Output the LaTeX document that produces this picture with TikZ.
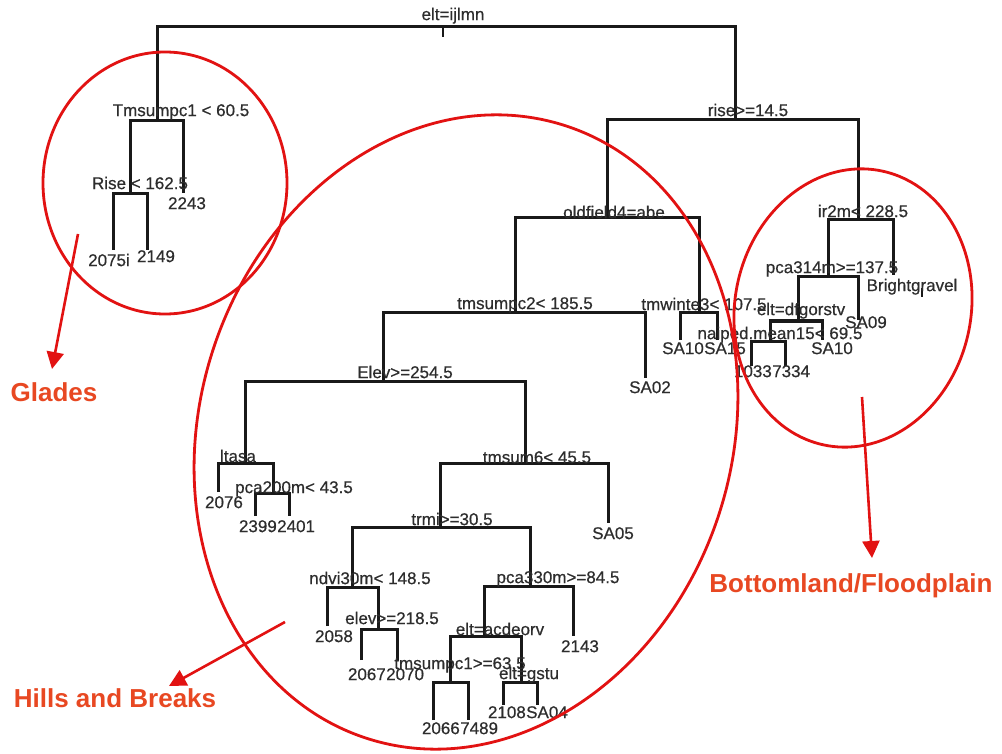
\documentclass[tikz,border=0pt]{standalone}
\usepackage{fontspec}
\setmainfont{Liberation Sans}
\newfontfamily\treefont[FakeBold=0.5]{Liberation Sans}
\usetikzlibrary{arrows.meta}
\definecolor{treeline}{RGB}{25,25,25}
\definecolor{treetext}{RGB}{45,45,45}
\definecolor{ringred}{RGB}{226,18,18}
\definecolor{labelred}{RGB}{232,72,34}
\begin{document}
\begin{tikzpicture}[x=1pt,y=-1pt,
  branch/.style={draw=treeline,line width=3pt},
  tick/.style={draw=treeline,line width=1.5pt},
  split/.style={font=\treefont\fontsize{17}{18}\selectfont,text=treetext,inner sep=0pt,text height=12.2pt,text depth=0pt},
  ring/.style={draw=ringred,line width=2.8pt},
  pointer/.style={draw=ringred,line width=2.6pt,-{Triangle[length=17pt,width=17pt]}},
  region/.style={font=\bfseries\fontsize{26}{28}\selectfont,text=labelred,inner sep=0pt,text height=18.6pt,text depth=0pt}]
\useasboundingbox[fill=white] (0,0) rectangle (1002,754);

% ---------- tree coordinates ----------
\coordinate (root) at (443,27);
\coordinate (rootstub) at (443,37);
\coordinate (n2) at (157,121);
\coordinate (n4) at (130,194);
\coordinate (l2075) at (113,250);
\coordinate (l2149) at (147,250);
\coordinate (l2243) at (183,193);
\coordinate (n3) at (735,120);
\coordinate (n6) at (607,218);
\coordinate (n7) at (858,220);
\coordinate (n12) at (515,313);
\coordinate (n13) at (699,313);
\coordinate (lSA10a) at (680,340);
\coordinate (lSA15) at (717,340);
\coordinate (n24) at (383,381);
\coordinate (lSA02) at (645,378);
\coordinate (n48) at (245,463);
\coordinate (l2076) at (218,492);
\coordinate (n97) at (273,493);
\coordinate (l2399) at (255,516);
\coordinate (l2401) at (289,516);
\coordinate (n49) at (525,463);
\coordinate (n98) at (440,527);
\coordinate (lSA05) at (608,523);
\coordinate (n196) at (352,587);
\coordinate (l2058) at (327,626);
\coordinate (n393) at (378,629);
\coordinate (l2067) at (361,660);
\coordinate (l2070) at (397,660);
\coordinate (n197) at (530,586);
\coordinate (n394) at (484,636);
\coordinate (l2143) at (573,636);
\coordinate (n788) at (450,682);
\coordinate (l2066) at (433,720);
\coordinate (l7489) at (468,720);
\coordinate (n789) at (521,682);
\coordinate (l2108) at (503,705);
\coordinate (lSA04) at (537,705);
\coordinate (n14) at (828,277);
\coordinate (lBright) at (893,275);
\coordinate (n28) at (798,321);
\coordinate (lSA09) at (858,320);
\coordinate (n56) at (770,341);
\coordinate (l1033) at (751,366);
\coordinate (l7334) at (785,366);
\coordinate (lSA10b) at (822,340);
\coordinate (brighttickA) at (922,288);
\coordinate (brighttickB) at (922,297);

% ---------- tree branches ----------
\draw[tick] (root) -- (rootstub);
\draw[branch] (n2) |- (root) -| (n3);
\draw[branch] (n4) |- (n2) -| (l2243);
\draw[branch] (l2075) |- (n4) -| (l2149);
\draw[branch] (n6) |- (n3) -| (n7);
\draw[branch] (n12) |- (n6) -| (n13);
\draw[branch] (lSA10a) |- (n13) -| (lSA15);
\draw[branch] (n24) |- (n12) -| (lSA02);
\draw[branch] (n48) |- (n24) -| (n49);
\draw[branch] (l2076) |- (n48) -| (n97);
\draw[branch] (l2399) |- (n97) -| (l2401);
\draw[branch] (n98) |- (n49) -| (lSA05);
\draw[branch] (n196) |- (n98) -| (n197);
\draw[branch] (l2058) |- (n196) -| (n393);
\draw[branch] (l2067) |- (n393) -| (l2070);
\draw[branch] (n394) |- (n197) -| (l2143);
\draw[branch] (n788) |- (n394) -| (n789);
\draw[branch] (l2066) |- (n788) -| (l7489);
\draw[branch] (l2108) |- (n789) -| (lSA04);
\draw[branch] (n14) |- (n7) -| (lBright);
\draw[branch] (n28) |- (n14) -| (lSA09);
\draw[branch] (n56) |- (n28) -| (lSA10b);
\draw[branch] (l1033) |- (n56) -| (l7334);
\draw[tick] (brighttickA) -- (brighttickB);

% ---------- split labels ----------
\node[split] (t1) at (453,14) {elt=ijlmn};
\node[split] (t2) at (181,110) {Tmsumpc1 < 60.5};
\node[split] (t4) at (140,183) {Rise < 162.5};
\node[split] (t3) at (748,110) {rise>=14.5};
\node[split] (t6) at (614,212) {oldfield4=abe};
\node[split] (t7) at (863,211) {ir2m< 228.5};
\node[split] (t14) at (832,267) {pca314m>=137.5};
\node[split] (t28) at (801,309) {elt=dfgorstv};
\node[split] (t56) at (780,333) {naiped.mean15< 69.5};
\node[split] (t13) at (704,304) {tmwinte3< 107.5};
\node[split] (t12) at (525,303) {tmsumpc2< 185.5};
\node[split] (t24) at (405,372) {Elev>=254.5};
\node[split] (t48) at (238,456) {ltasa};
\node[split] (t97) at (294,487) {pca200m< 43.5};
\node[split] (t49) at (537,457) {tmsum6< 45.5};
\node[split] (t98) at (452,519) {trmi>=30.5};
\node[split] (t196) at (370,578) {ndvi30m< 148.5};
\node[split] (t393) at (392,618) {elev>=218.5};
\node[split] (t197) at (558,577) {pca330m>=84.5};
\node[split] (t394) at (500,629) {elt=acdeorv};
\node[split] (t788) at (460,663) {tmsumpc1>=63.5};
\node[split] (t789) at (529,673) {elt=gstu};

% ---------- leaf labels ----------
\node[split] (a2075) at (109,260) {2075i};
\node[split] (a2149) at (156,256) {2149};
\node[split] (a2243) at (187,203) {2243};
\node[split,anchor=east] (aSA10a) at (704,348) {SA10};
\node[split,anchor=west] (aSA15) at (704,348) {SA15};
\node[split] (aSA02) at (650,387) {SA02};
\node[split] (a2076) at (224,502) {2076};
\node[split,anchor=east] (a2399) at (277,526) {2399};
\node[split,anchor=west] (a2401) at (277,526) {2401};
\node[split] (aSA05) at (613,533) {SA05};
\node[split] (a2058) at (334,636) {2058};
\node[split,anchor=east] (a2067) at (386,674) {2067};
\node[split,anchor=west] (a2070) at (386,674) {2070};
\node[split] (a2143) at (580,646) {2143};
\node[split,anchor=east] (a2066) at (460,728) {2066};
\node[split,anchor=west] (a7489) at (460,728) {7489};
\node[split,anchor=east] (a2108) at (526,712) {2108};
\node[split,anchor=west] (aSA04) at (526,712) {SA04};
\node[split] (aBright) at (912,285) {Brightgravel};
\node[split] (aSA09) at (866,322) {SA09};
\node[split] (aSA10b) at (832,348) {SA10};
\node[split,anchor=east] (a1033) at (772,371) {1033};
\node[split,anchor=west] (a7334) at (772,371) {7334};

% ---------- red groupings ----------
\draw[ring] (165,183) ellipse [x radius=122, y radius=131];
\draw[ring] (466,432) ellipse [x radius=266, y radius=322, rotate=-18];
\draw[ring] (853,308) ellipse [x radius=118, y radius=140, rotate=-12];

\node[region] (glades) at (54,392) {Glades};
\node[region] (hills) at (115,698) {Hills and Breaks};
\node[region] (bottom) at (851,583) {Bottomland/Floodplain};

\coordinate (gA) at (78,234);
\coordinate (gB) at (52,369);
\coordinate (hA) at (285,622);
\coordinate (hB) at (169,686);
\coordinate (bA) at (862,397);
\coordinate (bB) at (872,558);
\draw[pointer] (gA) -- (gB);
\draw[pointer] (hA) -- (hB);
\draw[pointer] (bA) -- (bB);
\end{tikzpicture}
\end{document}
